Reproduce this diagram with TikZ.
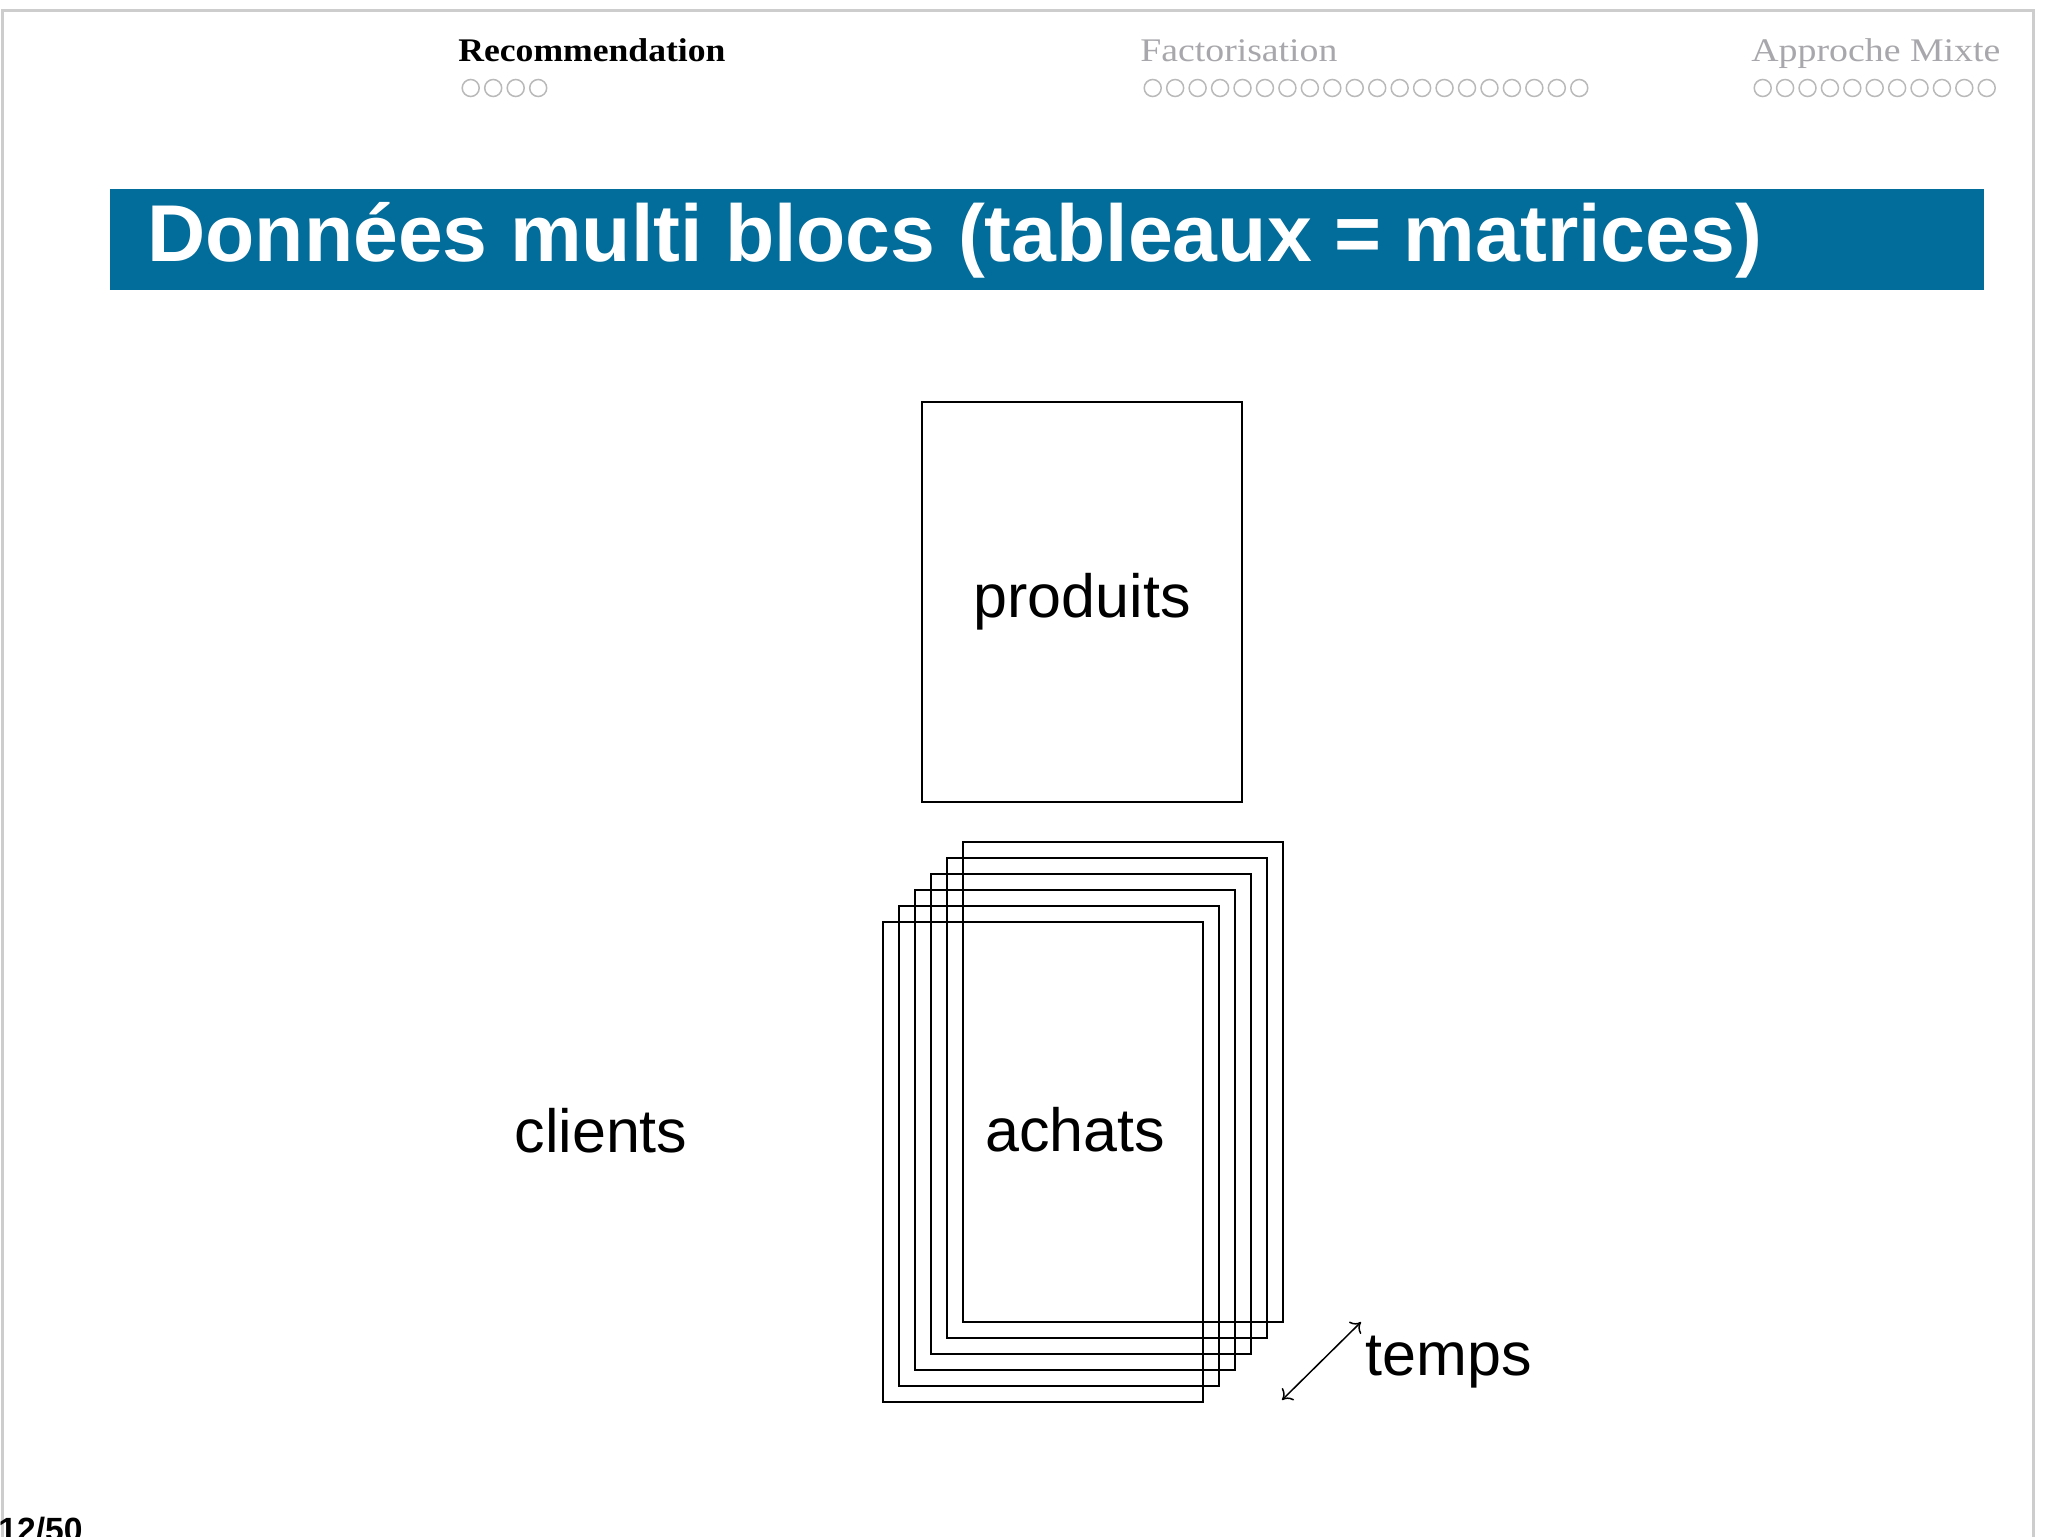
\documentclass[tikz,border=0pt]{standalone}
\usepackage{fontspec}
\usepackage{graphicx}
\setmainfont{Liberation Sans}
\newfontfamily\hdrfont{Liberation Serif}
\usetikzlibrary{arrows.meta}
\definecolor{barblue}{RGB}{2,108,155}
\definecolor{hdrgray}{RGB}{168,168,172}
\definecolor{dotgray}{RGB}{185,185,185}
\definecolor{framegray}{RGB}{205,205,205}
\begin{document}
\begin{tikzpicture}[x=0.5pt,y=-0.5pt,
  prodbox/.style={draw, line width=1.05pt, minimum width=160pt, minimum height=200pt, inner sep=0pt, anchor=north west},
  matbox/.style={draw, line width=1.05pt, minimum width=160pt, minimum height=240pt, inner sep=0pt, anchor=north west},
  lbl/.style={font=\fontsize{30.5pt}{36pt}\selectfont, inner sep=0pt},
  dotc/.style={circle, draw=dotgray, line width=0.75pt, minimum size=8.5pt, inner sep=0pt},
  hdr/.style={anchor=base west, inner sep=0pt}]
\useasboundingbox (0,0) rectangle (2048,1536);
\fill[white] (0,0) rectangle (2048,1536);
% slide frame
\draw[framegray, line width=1.5pt] (2,1540) -- (2,11) -- (2033,11) -- (2033,1540);
% navigation header
\node[hdr] (navrec) at (458,62) {\resizebox{133.5pt}{\height}{\hdrfont\bfseries\fontsize{16.5pt}{20pt}\selectfont Recommendation}};
\node[hdr, text=hdrgray] (navfac) at (1140,62) {\resizebox{98.5pt}{\height}{\hdrfont\fontsize{16.5pt}{20pt}\selectfont Factorisation}};
\node[hdr, text=hdrgray] (navmix) at (1751,62) {\resizebox{124.5pt}{\height}{\hdrfont\fontsize{16.5pt}{20pt}\selectfont Approche Mixte}};
\foreach \i in {0,...,3} \node[dotc] (drec\i) at (470.7+22.5*\i,88) {};
\foreach \i in {0,...,19} \node[dotc] (dfac\i) at (1152.7+22.45*\i,88) {};
\foreach \i in {0,...,10} \node[dotc] (dmix\i) at (1762.7+22.4*\i,88) {};
% title bar
\fill[barblue] (110,189) rectangle (1984,290);
\node[anchor=base west, inner sep=0pt, text=white, font=\bfseries\fontsize{40.3pt}{48pt}\selectfont] (title) at (147,261) {Données multi blocs (tableaux = matrices)};
% produits
\node[prodbox, lbl] (produits) at (921,401) {produits};
% achats stack
\foreach \k in {0,...,5} \node[matbox] (ach\k) at (882+16*\k,921-16*\k) {};
\node[lbl] (achats) at (ach2.center) {achats};
% clients
\node[lbl] (clients) at (601,1131) {clients};
% temps
\node[lbl, anchor=base west] (temps) at (1365,1375) {temps};
\coordinate (ta) at (1282,1400);
\coordinate (tb) at (1361,1322);
\draw[{To[length=4.5pt,width=8.5pt]}-{To[length=4.5pt,width=8.5pt]}, line width=0.75pt] (ta) -- (tb);
% page number
\node[anchor=base west, inner sep=0pt, font=\bfseries\fontsize{16.8pt}{20pt}\selectfont] (pagenum) at (-2,1541) {12/50};
\end{tikzpicture}
\end{document}
